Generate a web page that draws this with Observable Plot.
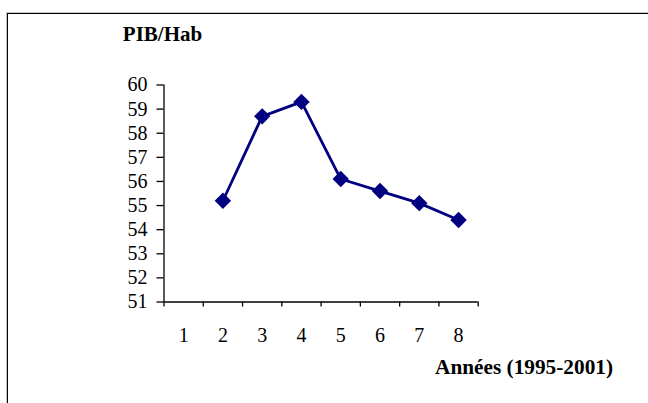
<!DOCTYPE html>
<html><head><meta charset="utf-8">
<script src="https://cdn.jsdelivr.net/npm/d3@7"></script>
<script src="https://cdn.jsdelivr.net/npm/@observablehq/plot@0.6"></script>
<style>
body{margin:0;background:#fff;}
#wrap{position:relative;width:648px;height:403px;overflow:hidden;background:#fff;}
#chart{position:absolute;left:0;top:0;}
#chart svg text{font-family:'Liberation Serif','Times New Roman',serif;}
#frame{position:absolute;left:7px;top:13px;width:700px;height:500px;border-left:1.5px solid #000;border-top:1.5px solid #000;box-shadow:-1px -1px 0 #c8c8c8;pointer-events:none;}
</style></head>
<body><div id="wrap"><div id="chart"></div><div id="frame"></div></div>
<script>
const years = [1, 2, 3, 4, 5, 6, 7, 8];
const pibYears = [2, 3, 4, 5, 6, 7, 8];
const pibValues = [55.2, 58.7, 59.3, 56.1, 55.6, 55.1, 54.4];
const yTicks = [51, 52, 53, 54, 55, 56, 57, 58, 59, 60];
const yTitle = "PIB/Hab";
const xTitle = "Années (1995-2001)";

const data = pibYears.map((x, i) => ({x, y: pibValues[i]}));
const bounds = [years[0] - 0.5, ...years.map(d => d + 0.5)];
const serif = "'Liberation Serif', 'Times New Roman', serif";

const plot = Plot.plot({
  width: 648, height: 403,
  marginLeft: 163.5, marginRight: 170.3, marginTop: 84.5, marginBottom: 101.5,
  style: {fontFamily: serif, fontSize: "20px", color: "#000", background: "transparent", overflow: "visible"},
  x: {domain: [bounds[0], bounds[bounds.length - 1]]},
  y: {domain: [yTicks[0], yTicks[yTicks.length - 1]]},
  marks: [
    Plot.ruleX([bounds[0]], {stroke: "#000", strokeWidth: 1.3}),
    Plot.ruleY([yTicks[0]], {stroke: "#000", strokeWidth: 1.3}),
    Plot.axisY({ticks: yTicks, tickSize: 7, tickPadding: 9.5, label: null, stroke: "#000", strokeWidth: 1.3, fontSize: 20, fontFamily: serif, fontVariant: "normal", tickFormat: d => String(d)}),
    Plot.axisX({ticks: bounds, tickSize: 5, tickFormat: () => "", label: null, stroke: "#000", strokeWidth: 1.3}),
    Plot.axisX({ticks: years, tickSize: 0, tickPadding: 25.5, label: null, fontSize: 20, fontFamily: serif, fontVariant: "normal", tickFormat: d => String(d)}),
    Plot.line(data, {x: "x", y: "y", stroke: "#000080", strokeWidth: 2.8}),
    Plot.dot(data, {x: "x", y: "y", symbol: "diamond2", r: 7.4, fill: "#000080", stroke: "none"}),
    Plot.text([yTitle], {frameAnchor: "top-left", dx: -41.2, dy: -44, text: d => d, fontWeight: "bold", fontSize: 21, fontFamily: serif, textAnchor: "start", lineAnchor: "bottom", fill: "#000"}),
    Plot.text([xTitle], {frameAnchor: "bottom-left", dx: 271, dy: 71.5, text: d => d, fontWeight: "bold", fontSize: 21.3, fontFamily: serif, textAnchor: "start", lineAnchor: "bottom", fill: "#000"})
  ]
});
document.getElementById("chart").appendChild(plot);
</script>
</body></html>
